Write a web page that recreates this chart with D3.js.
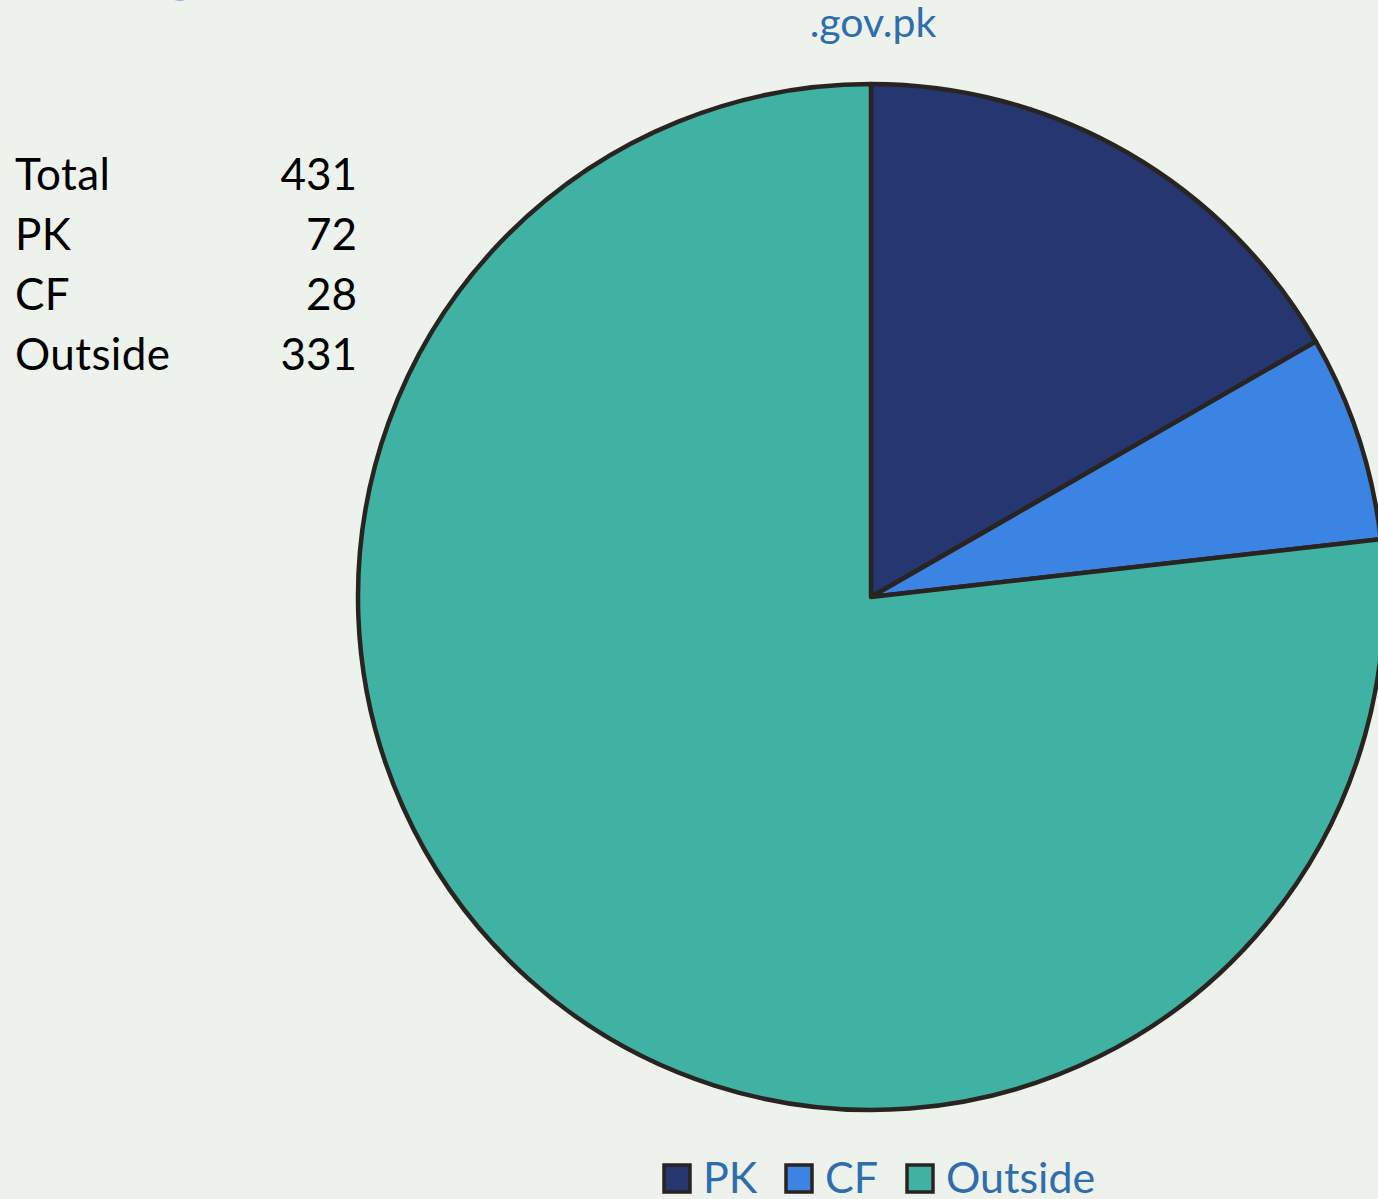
<html>
<head>
<script src="https://d3js.org/d3.v7.min.js"></script>
<style>
  body { margin: 0; background: #edf2ec; }
  text { font-family: Lato, "Open Sans", sans-serif; }
</style>
</head>
<body>
<svg id="chart" width="1378" height="1199"></svg>
<script>
// data
const categories = ['PK', 'CF', 'Outside']
const counts = [72, 28, 331]
const colors = ['#253670', '#3c84e3', '#40b2a4']
const tableLabels = ['Total', 'PK', 'CF', 'Outside']
const tableValues = [431, 72, 28, 331]
const chartTitle = '.gov.pk'
// bits of the heading above, cut off by the page edge
const headingGlyphs = [{ch: 'g', x: 164}, {ch: 'p', x: 300}]

const svg = d3.select('svg#chart')
const width = +svg.attr('width')
const height = +svg.attr('height')

svg.append('rect').attr('width', width).attr('height', height).attr('fill', '#edf2ec')

// cut-off heading
svg.selectAll('text.heading').data(headingGlyphs)
  .join('text')
  .attr('class', 'heading')
  .attr('x', d => d.x)
  .attr('y', -10)
  .attr('font-size', 60)
  .attr('fill', '#3b82e0')
  .text(d => d.ch)

// title
svg.append('text')
  .attr('x', 873)
  .attr('y', 37)
  .attr('text-anchor', 'middle')
  .attr('font-size', 41)
  .attr('fill', '#2e6dae')
  .text(chartTitle)

// pie
const cx = 871, cy = 597, r = 513
const pie = d3.pie().sort(null).value(d => d)
const arc = d3.arc().innerRadius(0).outerRadius(r)

const g = svg.append('g').attr('transform', `translate(${cx},${cy})`)
g.selectAll('path').data(pie(counts))
  .join('path')
  .attr('d', arc)
  .attr('fill', (d, i) => colors[i])
  .attr('stroke', '#2a2420')
  .attr('stroke-width', 4.5)
  .attr('stroke-linejoin', 'round')

// side table
const rowY = d3.scalePoint().domain(tableLabels).range([190, 370])
svg.selectAll('text.tlabel').data(tableLabels)
  .join('text')
  .attr('class', 'tlabel')
  .attr('x', 15)
  .attr('y', d => rowY(d))
  .attr('font-size', 44)
  .attr('letter-spacing', 0.4)
  .attr('fill', '#000')
  .text(d => d)
svg.selectAll('text.tval').data(tableValues)
  .join('text')
  .attr('class', 'tval')
  .attr('x', 357)
  .attr('y', (d, i) => rowY(tableLabels[i]))
  .attr('text-anchor', 'end')
  .attr('font-size', 44)
  .attr('fill', '#000')
  .text(d => d)

// legend
const legendX = [662, 784, 905]
const legend = svg.selectAll('g.legend').data(categories)
  .join('g')
  .attr('class', 'legend')
  .attr('transform', (d, i) => `translate(${legendX[i]},1164)`)
legend.append('rect')
  .attr('x', 2).attr('y', 1)
  .attr('width', 26).attr('height', 27)
  .attr('fill', (d, i) => colors[i])
  .attr('stroke', '#2a2420')
  .attr('stroke-width', 3.5)
legend.append('text')
  .attr('x', 41)
  .attr('y', 29)
  .attr('font-size', 43)
  .attr('fill', '#2e6dae')
  .text(d => d)
</script>
</body>
</html>
